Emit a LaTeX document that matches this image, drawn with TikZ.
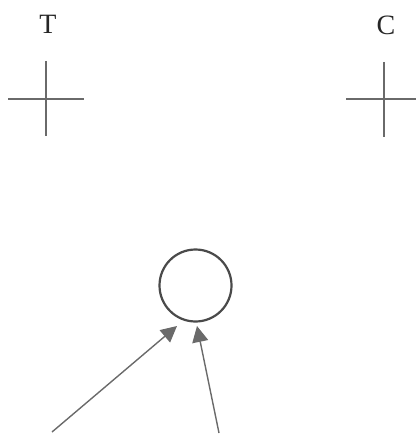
\documentclass[tikz,border=0pt]{standalone}
\usepackage{fontspec}
\setmainfont{Liberation Serif}
\usetikzlibrary{arrows.meta}
\definecolor{linegray}{HTML}{6A6A6A}
\definecolor{circgray}{HTML}{4A4A4A}
\begin{document}
\begin{tikzpicture}[x=1pt,y=-1pt,
  lbl/.style={font=\fontsize{28}{32}\selectfont, text=black!85, inner sep=0pt, anchor=center},
  crossline/.style={draw=linegray, line width=1.4pt},
  arr/.style={draw=linegray, line width=1.4pt, -{Triangle[length=16pt,width=16pt,fill=linegray]}},
  ring/.style={circle, draw=circgray, line width=2.2pt, minimum size=72pt, inner sep=0pt}]
\useasboundingbox (0,0) rectangle (416,438);
\node[lbl] (T) at (48,24) {T};
\node[lbl] (C) at (386,25) {C};
\coordinate (t1) at (46,61); \coordinate (t2) at (46,136);
\coordinate (t3) at (8,99);  \coordinate (t4) at (84,99);
\coordinate (c1) at (384,62); \coordinate (c2) at (384,137);
\coordinate (c3) at (346,99); \coordinate (c4) at (416,99);
\draw[crossline] (t1) -- (t2);
\draw[crossline] (t3) -- (t4);
\draw[crossline] (c1) -- (c2);
\draw[crossline] (c3) -- (c4);
\node[ring] (O) at (195.5,285.5) {};
\coordinate (s1) at (52,432); \coordinate (e1) at (177,326);
\coordinate (s2) at (219,433); \coordinate (e2) at (197,326);
\draw[arr] (s1) -- (e1);
\draw[arr] (s2) -- (e2);
\end{tikzpicture}
\end{document}
